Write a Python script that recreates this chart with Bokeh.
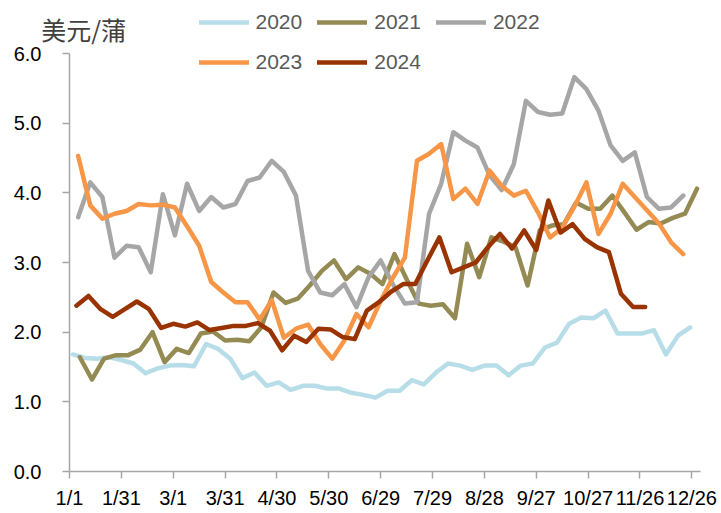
import datetime as dt
from bokeh.plotting import figure
from bokeh.models import (Range1d, FixedTicker, Legend, LegendItem, Label,
                          ColumnDataSource, NumeralTickFormatter)
from bokeh.embed import file_html
from bokeh.resources import INLINE

# ---------------- data ----------------
years = ["2020", "2021", "2022", "2023", "2024"]
start_dates = ["2020-01-03", "2021-01-07", "2022-01-06", "2023-01-06", "2024-01-05"]

v2020 = [1.68, 1.63, 1.62, 1.64, 1.60, 1.55, 1.41, 1.48, 1.52, 1.53, 1.51, 1.83, 1.76,
         1.62, 1.34, 1.42, 1.23, 1.28, 1.17, 1.23, 1.23, 1.19, 1.19, 1.13, 1.10, 1.06,
         1.16, 1.16, 1.31, 1.25, 1.42, 1.55, 1.52, 1.46, 1.52, 1.52, 1.38, 1.52, 1.55,
         1.78, 1.85, 2.12, 2.21, 2.20, 2.31, 1.98, 1.98, 1.98, 2.03, 1.68, 1.95, 2.07]
v2021 = [1.64, 1.32, 1.62, 1.67, 1.67, 1.75, 2.00, 1.57, 1.76, 1.70, 1.98, 2.01, 1.88,
         1.89, 1.87, 2.07, 2.57, 2.42, 2.48, 2.67, 2.88, 3.03, 2.76, 2.93, 2.84, 2.69,
         3.12, 2.76, 2.41, 2.38, 2.40, 2.20, 3.27, 2.79, 3.36, 3.30, 3.22, 2.67, 3.46,
         3.53, 3.55, 3.86, 3.77, 3.77, 3.96, 3.72, 3.47, 3.58, 3.56, 3.64, 3.70, 4.06]
v2022 = [3.65, 4.15, 3.94, 3.07, 3.24, 3.22, 2.86, 3.98, 3.39, 4.13, 3.74, 3.94, 3.79,
         3.84, 4.17, 4.22, 4.46, 4.30, 3.96, 2.88, 2.57, 2.53, 2.69, 2.36, 2.79, 3.03,
         2.69, 2.41, 2.43, 3.70, 4.13, 4.87, 4.75, 4.65, 4.25, 4.04, 4.41, 5.32, 5.16,
         5.12, 5.14, 5.66, 5.49, 5.18, 4.68, 4.46, 4.58, 3.94, 3.77, 3.79, 3.96]
v2023 = [4.53, 3.82, 3.63, 3.70, 3.74, 3.84, 3.82, 3.83, 3.79, 3.52, 3.24, 2.72, 2.57,
         2.43, 2.43, 2.18, 2.46, 1.92, 2.05, 2.11, 1.83, 1.62, 1.88, 2.26, 2.07, 2.45,
         2.78, 3.07, 4.46, 4.56, 4.70, 3.91, 4.06, 3.84, 4.32, 4.10, 3.96, 4.03, 3.72,
         3.36, 3.50, 3.80, 4.15, 3.41, 3.70, 4.13, 3.94, 3.75, 3.56, 3.29, 3.12]
v2024 = [2.38, 2.52, 2.33, 2.22, 2.33, 2.44, 2.33, 2.06, 2.12, 2.08, 2.14, 2.03, 2.06,
         2.09, 2.09, 2.13, 2.02, 1.74, 1.95, 1.86, 2.05, 2.04, 1.93, 1.90, 2.31, 2.43,
         2.58, 2.69, 2.69, 3.03, 3.36, 2.86, 2.93, 3.00, 3.22, 3.41, 3.20, 3.46, 3.18,
         3.89, 3.43, 3.55, 3.34, 3.22, 3.15, 2.55, 2.36, 2.36]
series_values = [v2020, v2021, v2022, v2023, v2024]
colors = ["#B7DEE8", "#948A54", "#A6A6A6", "#F79646", "#993300"]

tick_days = [0, 30, 60, 90, 120, 150, 180, 210, 240, 270, 300, 330, 360]
tick_labels = ["1/1", "1/31", "3/1", "3/31", "4/30", "5/30", "6/29", "7/29",
               "8/28", "9/27", "10/27", "11/26", "12/26"]
y_ticks = [0, 1, 2, 3, 4, 5, 6]
unit_label = "美元/蒲"


def day_positions(start, n):
    d = dt.date.fromisoformat(start)
    off = (d - dt.date(d.year, 1, 1)).days
    return [off + 7 * i for i in range(n)]


# ---------------- layout geometry (pixels) ----------------
W, H = 720, 510
AX_LEFT, AX_RIGHT = 69, 700      # x-axis line from day 0 to day 365
AX_TOP, AX_BOTTOM = 53, 471      # y-axis line from 6.0 to 0.0
X_END_DAY, Y_TOP = 365, 6
px_day = (AX_RIGHT - AX_LEFT) / X_END_DAY
px_val = (AX_BOTTOM - AX_TOP) / Y_TOP

x0 = -AX_LEFT / px_day
x1 = (W - AX_LEFT) / px_day
y1 = AX_BOTTOM / px_val
y0 = (AX_BOTTOM - H) / px_val

p = figure(width=W, height=H,
           x_range=Range1d(x0, x1), y_range=Range1d(y0, y1),
           output_backend="svg", toolbar_location=None, min_border=0)
p.title_location = None
p.outline_line_color = None
p.xgrid.visible = False
p.ygrid.visible = False
p.background_fill_color = "white"
p.border_fill_color = "white"

for ax in (p.xaxis, p.yaxis):
    ax.fixed_location = 0
    ax.axis_line_color = "#A6A6A6"
    ax.axis_line_width = 1.5
    ax.major_tick_line_color = "#A6A6A6"
    ax.major_tick_line_width = 1.5
    ax.major_tick_in = 0
    ax.major_tick_out = 7
    ax.minor_tick_line_color = None
    ax.major_label_text_font = "Liberation Sans"
    ax.major_label_text_font_size = "20px"
    ax.major_label_text_color = "#000000"

p.xaxis.bounds = (0, X_END_DAY)
p.xaxis.ticker = FixedTicker(ticks=tick_days)
p.xaxis.major_label_overrides = {d: l for d, l in zip(tick_days, tick_labels)}
p.xaxis.major_label_standoff = 8
p.yaxis.bounds = (0, Y_TOP)
p.yaxis.ticker = FixedTicker(ticks=y_ticks)
p.yaxis.formatter = NumeralTickFormatter(format="0.0")
p.yaxis.major_label_standoff = 21

renderers = []
for yr, start, vals, c in zip(years, start_dates, series_values, colors):
    src = ColumnDataSource(dict(x=day_positions(start, len(vals)), y=vals))
    r = p.line("x", "y", source=src, line_color=c, line_width=4.5,
               line_join="round", line_cap="round")
    renderers.append(r)


def make_legend(idx, loc):
    return Legend(items=[LegendItem(label=years[i], renderers=[renderers[i]]) for i in idx],
                  orientation="horizontal", location=loc,
                  glyph_width=50, glyph_height=24, label_height=24,
                  label_standoff=7, spacing=15, padding=0, margin=0,
                  border_line_alpha=0, background_fill_alpha=0,
                  label_text_font="Liberation Sans", label_text_font_size="21px",
                  label_text_color="#595959")


# legend rows centred at y=22 and y=62 (page), starting at x=198.5
p.add_layout(make_legend([0, 1, 2], (198.5, H - 34)))
p.add_layout(make_legend([3, 4], (198.5, H - 74)))

p.add_layout(Label(x=40.7, y=H - 28.7, x_units="screen", y_units="screen",
                   text=unit_label, text_font="Noto Sans CJK SC",
                   text_font_size="25px", text_color="#404040",
                   text_baseline="middle", text_align="left"))

open("out.html", "w").write(file_html(p, INLINE))
